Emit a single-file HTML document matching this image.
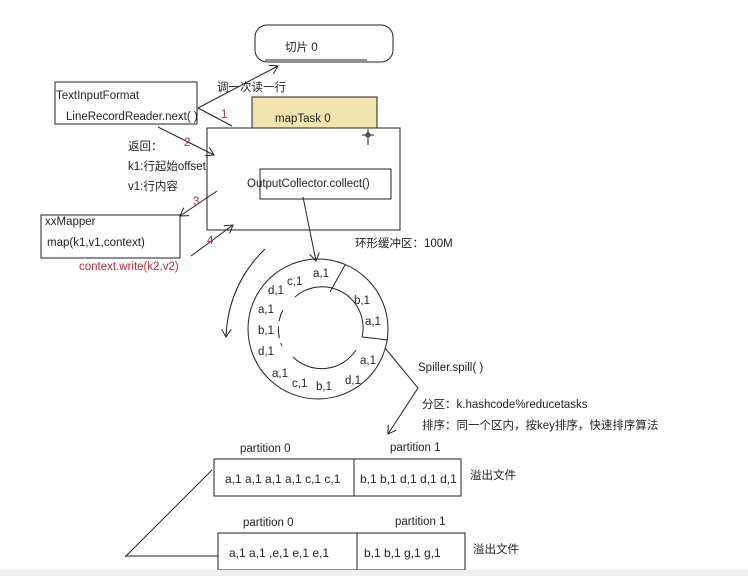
<!DOCTYPE html>
<html><head><meta charset="utf-8"><style>
body{margin:0;background:#fff;}
svg{display:block;}
text{font-family:"Liberation Sans","Noto Sans CJK SC",sans-serif;font-size:11.5px;fill:#222;}
.r{fill:#b0303a;}
</style></head><body>
<svg width="748" height="576" viewBox="0 0 748 576" xmlns="http://www.w3.org/2000/svg">
<defs><marker id="a" markerWidth="10" markerHeight="10" refX="8" refY="5" orient="auto" markerUnits="userSpaceOnUse"><path d="M0,0 L8,5 L0,10" fill="none" stroke="#222" stroke-width="1"/></marker></defs>
<g stroke="#222" stroke-width="1" fill="none">
<rect x="255" y="25" width="138" height="37" rx="12"/>
<line x1="265" y1="60" x2="367" y2="60"/>
<rect x="55" y="82" width="142" height="42"/>
<line x1="198" y1="108" x2="278" y2="66" marker-end="url(#a)"/>
<line x1="198" y1="108" x2="232" y2="126"/>
<rect x="252" y="97" width="125" height="31" fill="#f1e4ae"/>
<rect x="207" y="128" width="193" height="102" fill="#fff"/>
<rect x="260" y="169" width="131" height="30"/>
<line x1="362" y1="135" x2="374" y2="135"/><line x1="368" y1="129" x2="368" y2="145"/><circle cx="368" cy="135" r="2"/>
<line x1="158" y1="127" x2="214" y2="155" marker-end="url(#a)"/>
<line x1="217" y1="191" x2="180" y2="216" marker-end="url(#a)"/>
<rect x="41" y="215" width="139" height="43"/>
<line x1="191" y1="256" x2="233" y2="225" marker-end="url(#a)"/>
<line x1="303" y1="197" x2="316" y2="261" marker-end="url(#a)"/>
<circle cx="318" cy="329" r="70"/>
<path d="M295,297 A41,41 0 0 1 362,337"/>
<path d="M283,310 A41,41 0 0 0 282,346" stroke-dasharray="12 5"/>
<path d="M293,357 A41,41 0 0 0 356,350"/>
<line x1="330" y1="292" x2="345" y2="265"/>
<line x1="362" y1="337" x2="388" y2="340"/>
<path d="M265,249 Q228,285 226,337" marker-end="url(#a)"/>
<polyline points="385,348 418,388 388,434" marker-end="url(#a)"/>
<rect x="214" y="459" width="247" height="37"/><line x1="354" y1="459" x2="354" y2="496"/>
<rect x="218" y="533" width="247" height="37"/><line x1="357" y1="533" x2="357" y2="570"/>
<line x1="212" y1="470" x2="125" y2="557"/>
<line x1="125" y1="556" x2="218" y2="556"/>
</g>
<rect x="0" y="570" width="748" height="6" fill="#f0f0f0"/>
<text x="285" y="51">切片 0</text>
<text x="56" y="99">TextInputFormat</text>
<text x="66" y="120">LineRecordReader.next( )</text>
<text x="217" y="91">调一次读一行</text>
<text x="221" y="118" class="r">1</text>
<text x="275" y="122">mapTask 0</text>
<text x="247" y="187">OutputCollector.collect()</text>
<text x="128" y="150">返回：</text>
<text x="128" y="170">k1:行起始offset</text>
<text x="128" y="190">v1:行内容</text>
<text x="184" y="146" class="r">2</text>
<text x="193" y="205" class="r">3</text>
<text x="207" y="244" class="r">4</text>
<text x="45" y="225">xxMapper</text>
<text x="47" y="246">map(k1,v1,context)</text>
<text x="79" y="270" class="r">context.write(k2,v2)</text>
<text x="355" y="247">环形缓冲区：100M</text>
<text x="313" y="277">a,1</text><text x="287" y="285">c,1</text><text x="268" y="294">d,1</text>
<text x="258" y="313">a,1</text><text x="258" y="334">b,1</text><text x="258" y="355">d,1</text>
<text x="272" y="377">a,1</text><text x="292" y="387">c,1</text><text x="316" y="390">b,1</text>
<text x="345" y="384">d,1</text><text x="360" y="364">a,1</text><text x="354" y="304">b,1</text><text x="365" y="325">a,1</text>
<text x="418" y="371">Spiller.spill( )</text>
<text x="422" y="408">分区：k.hashcode%reducetasks</text>
<text x="422" y="429">排序：同一个区内，按key排序，快速排序算法</text>
<text x="240" y="452">partition 0</text><text x="390" y="451">partition 1</text>
<text x="225" y="483" style="font-size:12px">a,1 a,1 a,1 a,1   c,1 c,1</text>
<text x="360" y="483" style="font-size:12px">b,1 b,1 d,1 d,1 d,1</text>
<text x="470" y="479">溢出文件</text>
<text x="243" y="526">partition 0</text><text x="395" y="525">partition 1</text>
<text x="229" y="557" style="font-size:12px">a,1 a,1 ,e,1 e,1 e,1</text>
<text x="364" y="557" style="font-size:12px">b,1 b,1 g,1 g,1</text>
<text x="473" y="553">溢出文件</text>
</svg>
</body></html>
